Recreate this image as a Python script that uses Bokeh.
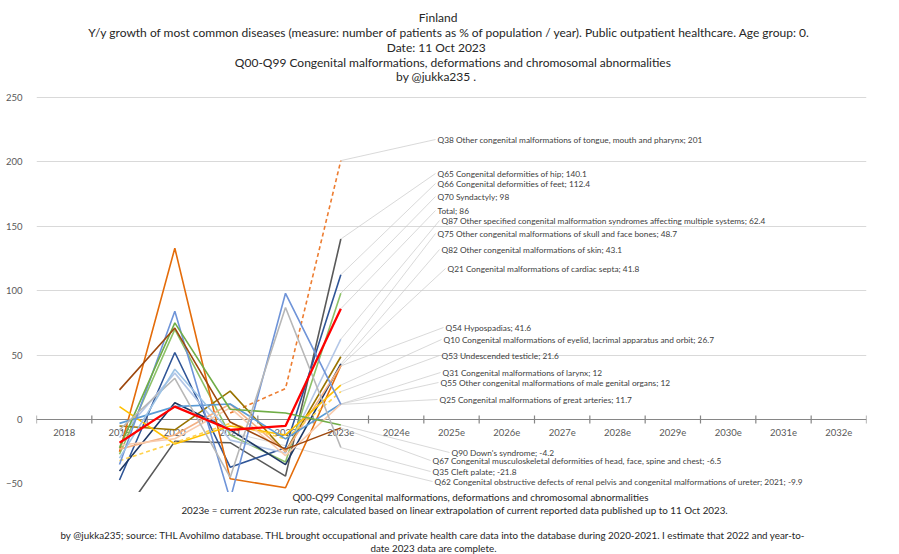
import math
from bokeh.plotting import figure
from bokeh.layouts import column
from bokeh.models import Range1d, FixedTicker
from bokeh.core.properties import value
from bokeh.embed import file_html
from bokeh.resources import INLINE

NaN = float("nan")

# ---------------- data ----------------
categories = ["2018", "2019", "2020", "2021", "2022", "2023e", "2024e", "2025e",
              "2026e", "2027e", "2028e", "2029e", "2030e", "2031e", "2032e"]
data_years = ["2019", "2020", "2021", "2022", "2023e"]

names = [
    "Q38 Other congenital malformations of tongue, mouth and pharynx",
    "Q65 Congenital deformities of hip",
    "Q66 Congenital deformities of feet",
    "Q70 Syndactyly",
    "Total",
    "Q87 Other specified congenital malformation syndromes affecting multiple systems",
    "Q75 Other congenital malformations of skull and face bones",
    "Q82 Other congenital malformations of skin",
    "Q21 Congenital malformations of cardiac septa",
    "Q54 Hypospadias",
    "Q10 Congenital malformations of eyelid, lacrimal apparatus and orbit",
    "Q53 Undescended testicle",
    "Q31 Congenital malformations of larynx",
    "Q55 Other congenital malformations of male genital organs",
    "Q25 Congenital malformations of great arteries",
    "Q90 Down's syndrome",
    "Q67 Congenital musculoskeletal deformities of head, face, spine and chest",
    "Q35 Cleft palate",
    "Q62 Congenital obstructive defects of renal pelvis and congenital malformations of ureter",
]

q38 = [NaN, NaN, 5, 24, 201]
q65 = [-78, -17, -18, -44, 140.1]
q66 = [-47, 52, -37, -22, 112.4]
q70 = [-27, 70, -12, -33, 98]
total = [-18, 10, -8, -5, 86]
q87 = [-14, 36, -16, -26, 62.4]
q75 = [-5, -8, 22, -25, 48.7]
q82 = [-40, 13, -8, -35, 43.1]
q21 = [-25, 133, -46, -53, 41.8]
q54 = [-23, -12, 12, -25, 41.6]
q10 = [10, -19, -5, -12, 26.7]
q53 = [-32, -18, -3, -15, 21.6]
q31 = [-3, 10, 12, -15, 12]
q55 = [-20, -15, 9, -28, 12]
q25 = [-35, 84, -62, 98, 11.7]
q90 = [-22, 75, 8, 5, -4.2]
q67 = [23, 71, -2, -23, -6.5]
q35 = [-8, 32, -45, 87, -21.8]
q62 = [-30, 39, -9.9, NaN, NaN]

series = [q38, q65, q66, q70, total, q87, q75, q82, q21, q54, q10, q53,
          q31, q55, q25, q90, q67, q35, q62]
label_years = [""] * 18 + ["2021"]

title_lines = [
    "Finland",
    "Y/y growth of most common diseases (measure: number of patients as % of population / year).  Public outpatient healthcare. Age group: 0.",
    "Date: 11 Oct 2023",
    "Q00-Q99 Congenital malformations, deformations and chromosomal abnormalities",
    "by @jukka235 .",
]
footer_lines = [
    "Q00-Q99 Congenital malformations, deformations and chromosomal abnormalities",
    "2023e = current 2023e run rate, calculated based on linear extrapolation of current reported data published up to 11 Oct 2023.",
    "by @jukka235; source: THL Avohilmo database. THL brought occupational and private health care data into the database during 2020-2021. I estimate that 2022 and year-to-",
    "date 2023 data are complete.",
]
y_ticks = [-50, 0, 50, 100, 150, 200, 250]

# ---------------- styles / layout ----------------
colors = ["#ED7D31", "#595959", "#2F5597", "#8CC168", "#FF0000", "#B4C7E7",
          "#997300", "#1F3864", "#E46C0A", "#F4B183", "#FFC000", "#FFD24D",
          "#5B9BD5", "#F8CBAD", "#6F94D8", "#70AD47", "#9E480E", "#B7B7B7", "#9DC3E6"]
dashes = ["4 3"] + ["solid"] * 10 + ["4 3"] + ["solid"] * 7
widths = [1.6] * 19
widths[4] = 2.3

OFF = 0                                   # layout root is drawn at the page corner
W = 899
TOP_H, MAIN_H, FOOT_H = 90, 402, 62       # page rows 0-90, 90-492, 492-554
FL, FR, FT, FB = 36, 866, 90, 492         # frame in page px
X0, X1 = -0.5, 14.5
SCALE = (419 - 97) / 250.0
Y1 = (419 - FT) / SCALE
Y0 = (419 - FB) / SCALE
FONT = "Lato"

def px2x(px):
    return X0 + (px - FL) / (FR - FL) * (X1 - X0)

def py2y(py):
    return Y1 - (py - FT) / (FB - FT) * (Y1 - Y0)

label_px = [437, 437, 437, 437, 437, 441, 437, 441, 447, 445, 443, 441, 442, 440, 439, 451, 432, 432, 434]
label_py = [139, 173, 183, 196, 210, 220, 233, 249, 268, 327, 339, 355, 372, 382, 399, 452, 460, 471, 481]
title_cx = [435, 449, 433, 451, 433]
title_cy = [17, 32, 47, 62, 76]
foot_cx = [470, 453, 430, 430]
foot_cy = [496, 509, 534, 547]


def text_fig(height, lines, xs, ys, size, top_px):
    f = figure(width=W, height=height, output_backend="svg", toolbar_location=None,
               x_range=Range1d(0, W), y_range=Range1d(top_px + height, top_px),
               x_axis_location=None, y_axis_location=None,
               min_border=0, min_border_left=0, min_border_right=0,
               min_border_top=0, min_border_bottom=0)
    f.outline_line_color = None
    f.grid.grid_line_color = None
    f.text(x=xs, y=ys, text=lines, text_align="center",
           text_baseline="middle", text_font=value(FONT), text_font_size=size,
           text_color="#262626")
    return f


top = text_fig(TOP_H, title_lines, title_cx, title_cy, "12px", 0)
foot = text_fig(FOOT_H, footer_lines, foot_cx, foot_cy, "9.8px", FB)

p = figure(width=W, height=MAIN_H, output_backend="svg", toolbar_location=None,
           x_range=Range1d(X0, X1), y_range=Range1d(Y0, Y1),
           x_axis_location=None, y_axis_location="left",
           min_border_left=FL - OFF, min_border_right=W - (FR - OFF),
           min_border_top=0, min_border_bottom=0)
p.outline_line_color = None
p.xgrid.grid_line_color = None
p.ygrid.ticker = FixedTicker(ticks=[t for t in y_ticks if t > 0])
p.ygrid.grid_line_color = "#D9D9D9"
p.ygrid.grid_line_width = 1
p.yaxis.ticker = FixedTicker(ticks=y_ticks)
p.yaxis.axis_line_color = None
p.yaxis.major_tick_line_color = None
p.yaxis.minor_tick_line_color = None
p.yaxis.major_label_standoff = 8
p.yaxis.major_label_text_font = FONT
p.yaxis.major_label_text_font_size = "9.5px"
p.yaxis.major_label_text_color = "#595959"

# category axis at zero
p.line(x=[X0, X1], y=[0, 0], line_color="#868686", line_width=1.2)
bounds = [i - 0.5 for i in range(len(categories) + 1)]
tick_half = 4 / SCALE
p.segment(x0=bounds, y0=[-tick_half] * len(bounds), x1=bounds, y1=[tick_half] * len(bounds),
          line_color="#868686", line_width=1.2)
p.text(x=list(range(len(categories))), y=[py2y(432)] * len(categories), text=categories,
       text_align="center", text_baseline="middle", text_font=value(FONT),
       text_font_size="9.5px", text_color="#595959")

# leader lines
xs_data = [categories.index(y) for y in data_years]
for i, vals in enumerate(series):
    last = max(k for k, v in enumerate(vals) if not math.isnan(v))
    lx, ly = px2x(label_px[i] - 2), py2y(label_py[i])
    p.segment(x0=[xs_data[last]], y0=[vals[last]], x1=[lx], y1=[ly],
              line_color="#C8C8C8", line_width=0.7)

# series lines (Total on top)
for i in [j for j in range(len(series)) if j != 4] + [4]:
    p.line(x=xs_data, y=series[i], line_color=colors[i], line_width=widths[i],
           line_dash=dashes[i])

texts = []
for i, vals in enumerate(series):
    last = max(k for k, v in enumerate(vals) if not math.isnan(v))
    yr = f"{label_years[i]}; " if label_years[i] else ""
    texts.append(f"{names[i]}; {yr}{vals[last]:g}")
p.text(x=[px2x(v) for v in label_px], y=[py2y(v) for v in label_py], text=texts,
       text_align="left", text_baseline="middle", text_font=value(FONT),
       text_font_size="8.3px", text_color="#404040")

layout = column(top, p, foot, spacing=0)
open("out.html", "w").write(file_html(layout, INLINE))
